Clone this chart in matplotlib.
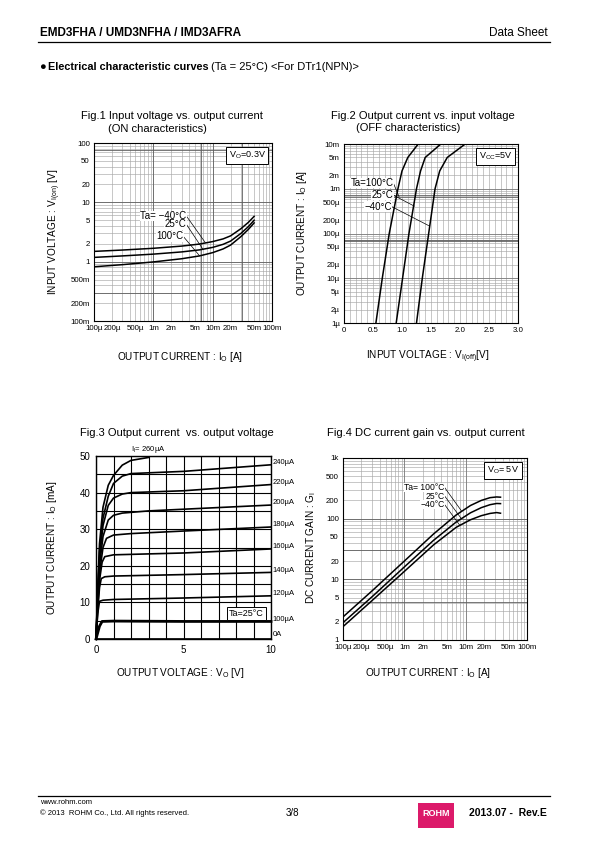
import matplotlib.pyplot as plt
from matplotlib.ticker import FixedLocator, NullFormatter, MultipleLocator, LogLocator
from matplotlib.patches import Rectangle

plt.rcParams['font.family'] = ['Liberation Sans', 'DejaVu Sans']
plt.rcParams['mathtext.fontset'] = 'custom'
plt.rcParams['mathtext.rm'] = 'Liberation Sans'
plt.rcParams['mathtext.it'] = 'Liberation Sans:italic'
plt.rcParams['mathtext.bf'] = 'Liberation Sans:bold'

# Fig.1 input voltage (ON) vs output current, Vo=0.3V
f1_io = [1e-4, 3e-4, 1e-3, 3e-3, 6e-3, 1e-2, 1.5e-2, 2e-2, 3e-2, 4e-2, 5e-2]
f1_vin_m40 = [1.49, 1.57, 1.68, 1.83, 1.98, 2.18, 2.42, 2.72, 3.6, 4.6, 5.8]
f1_vin_25 = [1.18, 1.25, 1.34, 1.46, 1.58, 1.74, 1.96, 2.22, 3.0, 3.9, 5.0]
f1_vin_100 = [0.82, 0.89, 0.99, 1.12, 1.25, 1.42, 1.64, 1.9, 2.65, 3.5, 4.5]
f1_xticks = [1e-4, 2e-4, 5e-4, 1e-3, 2e-3, 5e-3, 1e-2, 2e-2, 5e-2, 1e-1]
f1_xlabels = ['100µ', '200µ', '500µ', '1m', '2m', '5m', '10m', '20m', '50m', '100m']
f1_yticks = [0.1, 0.2, 0.5, 1, 2, 5, 10, 20, 50, 100]
f1_ylabels = ['100m', '200m', '500m', '1', '2', '5', '10', '20', '50', '100']

# Fig.2 output current vs input voltage (OFF), Vcc=5V
f2_io = [1e-6, 1e-5, 1e-4, 1e-3, 2.5e-3, 5e-3, 1e-2]
f2_vin_100 = [0.55, 0.66, 0.78, 0.93, 1.00, 1.10, 1.28]
f2_vin_25 = [0.90, 1.01, 1.12, 1.25, 1.32, 1.40, 1.67]
f2_vin_m40 = [1.25, 1.35, 1.46, 1.57, 1.65, 1.78, 2.09]
f2_xticks = [0, 0.5, 1.0, 1.5, 2.0, 2.5, 3.0]
f2_xlabels = ['0', '0.5', '1.0', '1.5', '2.0', '2.5', '3.0']
f2_yticks = [1e-6, 2e-6, 5e-6, 1e-5, 2e-5, 5e-5, 1e-4, 2e-4, 5e-4, 1e-3, 2e-3, 5e-3, 1e-2]
f2_ylabels = ['1µ', '2µ', '5µ', '10µ', '20µ', '50µ', '100µ', '200µ', '500µ', '1m', '2m', '5m', '10m']

# Fig.3 output current [mA] vs output voltage [V], Ta=25C
f3_curves = {
    '0A':    ([0, 10], [0, 0]),
    '100µA': ([0, 0.2, 0.35, 1, 5, 10], [0, 3.5, 4.8, 4.9, 4.8, 4.8]),
    '120µA': ([0, 0.1, 0.2, 0.4, 1, 5, 10], [0, 7, 10.3, 10.6, 10.8, 11.2, 11.8]),
    '140µA': ([0, 0.1, 0.2, 0.3, 0.5, 1, 5, 10], [0, 8, 14, 16.5, 17, 17.2, 17.6, 18.2]),
    '160µA': ([0, 0.1, 0.2, 0.35, 0.5, 1, 5, 10], [0, 9, 16, 21, 22.5, 23, 23.5, 24.6]),
    '180µA': ([0, 0.1, 0.2, 0.4, 0.6, 1, 2, 5, 10], [0, 10, 18, 25, 27.5, 28.4, 28.8, 29.5, 30.6]),
    '200µA': ([0, 0.1, 0.2, 0.4, 0.7, 1, 1.5, 3, 10], [0, 11, 20, 28, 32.5, 33.8, 34.4, 35, 36.6]),
    '220µA': ([0, 0.1, 0.2, 0.4, 0.7, 1, 1.5, 2, 5, 10], [0, 12, 22, 31, 36.5, 38.5, 39.6, 40, 40.5, 42.2]),
    '240µA': ([0, 0.1, 0.2, 0.4, 0.7, 1, 1.5, 2, 5, 10], [0, 13, 24, 33, 39, 42.5, 44.5, 45.2, 45.8, 47.6]),
    '260µA': ([0, 0.1, 0.2, 0.4, 0.7, 1, 1.5, 2, 3], [0, 14, 26, 36, 42, 44.7, 47.5, 48.8, 49.6]),
}

# Fig.4 DC current gain vs output current, Vo=5V
f4_io = [1e-4, 3e-4, 1e-3, 3e-3, 7e-3, 1.2e-2, 1.8e-2, 2.5e-2, 3.2e-2, 3.7e-2]
f4_gi_100 = [2.4, 6.5, 20, 56, 115, 165, 200, 222, 228, 226]
f4_gi_25 = [1.93, 5.2, 16, 44, 88, 125, 152, 170, 178, 177]
f4_gi_m40 = [1.66, 4.5, 13.5, 37, 72, 96, 112, 122, 126, 123]
f4_yticks = [1, 2, 5, 10, 20, 50, 100, 200, 500, 1000]
f4_ylabels = ['1', '2', '5', '10', '20', '50', '100', '200', '500', '1k']

W, H = 595, 842
fig = plt.figure(figsize=(W / 100, H / 100), dpi=100)


def px_axes(x0, y0, x1, y1):
    return fig.add_axes([x0 / W, 1 - y1 / H, (x1 - x0) / W, (y1 - y0) / H])


def ftext(x, y, s, **kw):
    kw.setdefault('fontsize', 7.2)
    fig.text(x / W, 1 - y / H, s, **kw)


def log_grid(ax, xlog=True, ylog=True):
    ax.grid(False)
    for axis, islog in ((ax.xaxis, xlog), (ax.yaxis, ylog)):
        axis.remove_overlapping_locs = False
        if islog:
            axis.set_minor_locator(LogLocator(base=10, subs=range(1, 10)))
        axis.set_minor_formatter(NullFormatter())
    ax.grid(which='minor', color='#a8a8a8', lw=0.45)
    ax.tick_params(which='both', length=0, labelsize=5.7, pad=3)
    for s in ax.spines.values():
        s.set_linewidth(0.8)


def box_label(ax, x, y, s):
    ax.text(x, y, s, transform=ax.transAxes, fontsize=6.5, ha='center', va='center',
            bbox=dict(boxstyle='square,pad=0.3', fc='white', ec='black', lw=0.7))


def temp_labels(ax, items, fs):
    for s, tx, ty, lx, ly in items:
        ax.text(tx, ty, s, fontsize=fs, ha='right', va='center',
                bbox=dict(fc='white', ec='none', pad=0.2))
        ax.plot([tx, lx], [ty, ly], color='black', lw=0.5)


# ---------- header ----------
ftext(40, 33, 'EMD3FHA / UMD3NFHA / IMD3AFRA', fontsize=8.5, weight='bold', va='center')
ftext(548, 33, 'Data Sheet', fontsize=8.5, ha='right', va='center')
fig.add_artist(plt.Line2D([38 / W, 550 / W], [1 - 42 / H, 1 - 42 / H], color='black', lw=0.9))
ftext(39, 67, '●', fontsize=8, va='center')
ftext(48, 67, 'Electrical characteristic curves', fontsize=7.8, weight='bold', va='center')
ftext(211, 67, '(Ta = 25°C) <For DTr1(NPN)>', fontsize=8, va='center')

# ---------- Fig.1 ----------
ax1 = px_axes(94, 143, 272, 321)
ax1.set_xscale('log')
ax1.set_yscale('log')
ax1.set_xlim(1e-4, 1e-1)
ax1.set_ylim(0.1, 100)
ax1.xaxis.set_major_locator(FixedLocator(f1_xticks))
ax1.set_xticklabels(f1_xlabels)
ax1.yaxis.set_major_locator(FixedLocator(f1_yticks))
ax1.set_yticklabels(f1_ylabels)
log_grid(ax1)
for v in [1e-3, 1e-2, 6.3e-3, 3.1e-2]:
    ax1.axvline(v, color='#606060', lw=0.6)
for v in [1, 10, 0.3, 75]:
    ax1.axhline(v, color='#606060', lw=0.6)
for yv in (f1_vin_m40, f1_vin_25, f1_vin_100):
    ax1.plot(f1_io, yv, color='black', lw=1.1)
temp_labels(ax1, [('Ta= −40°C', 3.6e-3, 5.9, 7.5e-3, 2.1),
                  ('25°C', 3.6e-3, 4.27, 6.9e-3, 1.6),
                  ('100°C', 3.2e-3, 2.66, 6.0e-3, 1.26)], 7)
box_label(ax1, 0.86, 0.93, 'V$_\\mathrm{O}$=0.3V')
ftext(172, 116, 'Fig.1 Input voltage vs. output current', fontsize=8, ha='center', va='center')
ftext(108, 129, '(ON characteristics)', fontsize=8, va='center')
ftext(180, 357, 'OUTPUT CURRENT : I$_\\mathrm{O}$ [A]', ha='center', va='center')
ftext(55, 232, 'INPUT VOLTAGE : V$_\\mathrm{I(on)}$ [V]', rotation=90, ha='center', va='center')

# ---------- Fig.2 ----------
ax2 = px_axes(344, 144, 518, 323)
ax2.set_yscale('log')
ax2.set_xlim(0, 3)
ax2.set_ylim(1e-6, 1e-2)
ax2.xaxis.set_major_locator(FixedLocator(f2_xticks))
ax2.set_xticklabels(f2_xlabels)
ax2.yaxis.set_major_locator(FixedLocator(f2_yticks))
ax2.set_yticklabels(f2_ylabels)
log_grid(ax2, xlog=False)
ax2.xaxis.set_minor_locator(MultipleLocator(0.1))
ax2.grid(which='minor', color='#a8a8a8', lw=0.45)
for v in [1e-5, 1e-4, 1e-3]:
    ax2.axhline(v, color='#707070', lw=0.5)
for v in [7.3e-4, 6.7e-4, 7.3e-5, 6.7e-5]:
    ax2.axhline(v, color='#606060', lw=0.6)
for xv in (f2_vin_100, f2_vin_25, f2_vin_m40):
    ax2.plot(xv, f2_io, color='black', lw=1.1)
temp_labels(ax2, [('Ta=100°C', 0.85, 1.35e-3, 0.95, 6.6e-4),
                  ('25°C', 0.85, 7.2e-4, 1.21, 4.1e-4),
                  ('−40°C', 0.82, 4.0e-4, 1.46, 1.5e-4)], 7)
box_label(ax2, 0.87, 0.93, 'V$_\\mathrm{CC}$=5V')
ftext(423, 116, 'Fig.2 Output current vs. input voltage', fontsize=8, ha='center', va='center')
ftext(356, 128, '(OFF characteristics)', fontsize=8, va='center')
ftext(428, 357, 'INPUT VOLTAGE : V$_\\mathrm{I(off)}$[V]', ha='center', va='center')
ftext(302, 233, 'OUTPUT CURRENT : I$_\\mathrm{O}$ [A]', rotation=90, ha='center', va='center')

# ---------- Fig.3 ----------
ax3 = px_axes(96, 456, 271, 639)
ax3.set_xlim(0, 10)
ax3.set_ylim(0, 50)
ax3.set_xticks([0, 5, 10])
ax3.set_yticks([0, 10, 20, 30, 40, 50])
ax3.xaxis.set_minor_locator(MultipleLocator(1))
ax3.yaxis.set_minor_locator(MultipleLocator(5))
ax3.grid(which='both', color='black', lw=0.8)
ax3.tick_params(which='both', length=0, labelsize=7, pad=4)
for s in ax3.spines.values():
    s.set_linewidth(1.0)
for name, (vx, iy) in f3_curves.items():
    ax3.plot(vx, iy, color='black', lw=2.0 if name == '100µA' else 1.2, clip_on=False)
    if name == '260µA':
        continue
    if name == '0A':
        ax3.text(1.01, 0.3, name, transform=ax3.get_yaxis_transform(), fontsize=5.5, va='bottom')
    else:
        ax3.text(1.01, iy[-1] + 0.6, name, transform=ax3.get_yaxis_transform(),
                 fontsize=5.5, va='center')
ax3.text(2.97, 50.3, 'I$_\\mathrm{I}$= 260µA', fontsize=5.5, ha='center', va='bottom')
ax3.text(8.6, 7.0, 'Ta=25°C', fontsize=6.5, ha='center', va='center',
         bbox=dict(boxstyle='square,pad=0.2', fc='white', ec='black', lw=0.7))
ftext(177, 433, 'Fig.3 Output current  vs. output voltage', fontsize=8, ha='center', va='center')
ftext(180, 673, 'OUTPUT VOLTAGE : V$_\\mathrm{O}$ [V]', ha='center', va='center')
ftext(52, 548, 'OUTPUT CURRENT : I$_\\mathrm{O}$ [mA]', rotation=90, ha='center', va='center')

# ---------- Fig.4 ----------
ax4 = px_axes(343, 458, 527, 640)
ax4.set_xscale('log')
ax4.set_yscale('log')
ax4.set_xlim(1e-4, 1e-1)
ax4.set_ylim(1, 1000)
ax4.xaxis.set_major_locator(FixedLocator(f1_xticks))
ax4.set_xticklabels(f1_xlabels)
ax4.yaxis.set_major_locator(FixedLocator(f4_yticks))
ax4.set_yticklabels(f4_ylabels)
log_grid(ax4)
for v in [1e-3, 1e-2]:
    ax4.axvline(v, color='#707070', lw=0.5)
for v in [10, 100, 30, 4.2]:
    ax4.axhline(v, color='#606060', lw=0.6)
for yv in (f4_gi_100, f4_gi_25, f4_gi_m40):
    ax4.plot(f4_io, yv, color='black', lw=1.1)
temp_labels(ax4, [('Ta= 100°C', 4.55e-3, 325, 8.5e-3, 135),
                  ('25°C', 4.55e-3, 236, 8.5e-3, 100),
                  ('−40°C', 4.55e-3, 170, 8e-3, 78)], 6.2)
box_label(ax4, 0.87, 0.93, 'V$_\\mathrm{O}$= 5V')
ftext(426, 433, 'Fig.4 DC current gain vs. output current', fontsize=8.1, ha='center', va='center')
ftext(428, 673, 'OUTPUT CURRENT : I$_\\mathrm{O}$ [A]', ha='center', va='center')
ftext(311, 548, 'DC CURRENT GAIN : G$_\\mathrm{I}$', rotation=90, ha='center', va='center')

# ---------- footer ----------
fig.add_artist(plt.Line2D([38 / W, 550 / W], [1 - 796 / H, 1 - 796 / H], color='black', lw=0.9))
ftext(40, 803, 'www.rohm.com', fontsize=5.5, va='center')
ftext(40, 813, '© 2013  ROHM Co., Ltd. All rights reserved.', fontsize=5.5, va='center')
ftext(292, 813, '3/8', fontsize=7, ha='center', va='center')
fig.add_artist(Rectangle((418 / W, 1 - 828 / H), 36 / W, 25 / H, transform=fig.transFigure,
                         fc='#dc1a6a', ec='none'))
ftext(436, 814, 'ROHM', fontsize=6.5, weight='bold', color='white', ha='center', va='center')
ftext(547, 813, '2013.07 -  Rev.E', fontsize=7.5, weight='bold', ha='right', va='center')

fig.savefig('out.png', dpi=100)
